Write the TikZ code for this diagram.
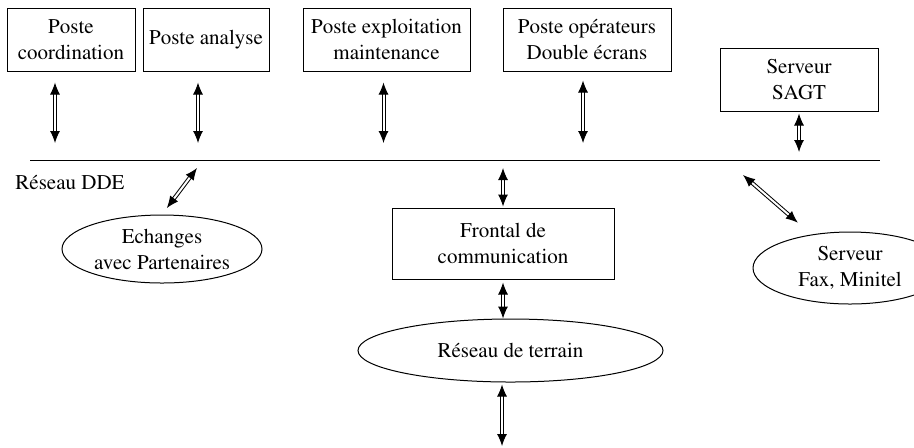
\documentclass[tikz,border=0pt]{standalone}
\usepackage[T1]{fontenc}
\usepackage{mathptmx}
\usetikzlibrary{arrows.meta}
\usetikzlibrary{shapes.geometric}

\begin{document}
\begin{tikzpicture}
[x=0.5pt,y=-0.5pt,%
  every node/.style={inner sep=0pt,align=center,line width=0.5pt},%
  poste/.style={rectangle,draw,minimum height=31.5pt},%
  oval/.style={ellipse,draw},%
  link/.style={double,double distance=1pt,line width=0.5pt,>={Latex[length=6pt,width=5pt]},<->}]
\fontsize{10.5}{13}\selectfont
\useasboundingbox (0,0) rectangle (914,447);
% postes du haut
\node[poste,minimum width=64pt] (coord) at (71,39.5) {Poste\\coordination};
\node[poste,minimum width=63pt] (analyse) at (206,39.5) {Poste analyse};
\node[poste,minimum width=83.5pt] (exploit) at (386.5,39.5) {Poste exploitation\\maintenance};
\node[poste,minimum width=84pt] (oper) at (587,39.5) {Poste op\'erateurs\\Double \'ecrans};
\node[poste,minimum width=79pt] (sagt) at (799,79.5) {Serveur\\SAGT};
% reseau DDE
\coordinate (busL) at (30,160);
\coordinate (busR) at (880,160);
\draw[line width=0.5pt] (busL) -- (busR);
\node (dde) at (70,182) {R\'eseau DDE};
% sous le reseau
\node[oval,minimum width=100pt,minimum height=34pt] (echange) at (162,249) {Echanges\\avec Partenaires};
\node[poste,minimum width=111pt,minimum height=35.5pt] (frontal) at (503,243.5) {Frontal de\\communication};
\node[oval,minimum width=152.5pt,minimum height=31.5pt] (terrain) at (510.5,350.5) {R\'eseau de terrain};
\node[oval,minimum width=97pt,minimum height=36pt] (fax) at (850,268) {Serveur\\Fax, Minitel};
\coordinate (echA) at (197,168);
\coordinate (faxA) at (743,175);
\coordinate (sortie) at (502,446);
% liaisons
\draw[link,shorten <=5.5pt,shorten >=8.5pt] ([xshift=-8pt]coord.south) -- ([xshift=-8pt]coord.south |- busL);
\draw[link,shorten <=5.5pt,shorten >=8.5pt] ([xshift=-4pt]analyse.south) -- ([xshift=-4pt]analyse.south |- busL);
\draw[link,shorten <=5.5pt,shorten >=8.5pt] ([xshift=-1.5pt]exploit.south) -- ([xshift=-1.5pt]exploit.south |- busL);
\draw[link,shorten <=4.5pt,shorten >=8.5pt] ([xshift=-2pt]oper.south) -- ([xshift=-2pt]oper.south |- busL);
\draw[link,shorten <=1pt,shorten >=4pt] (sagt.south) -- (sagt.south |- busL);
\draw[link,shorten >=4pt] (echA) -- (echange.north);
\draw[link,shorten <=4pt,shorten >=0.5pt] (frontal.north |- busL) -- (frontal.north);
\draw[link,shorten <=1.5pt] (frontal.south) -- (frontal.south |- terrain.north);
\draw[link,shorten <=1pt] (sortie |- terrain.south) -- (sortie);
\draw[link,shorten >=9pt] (faxA) -- (fax);
\end{tikzpicture}
\end{document}
